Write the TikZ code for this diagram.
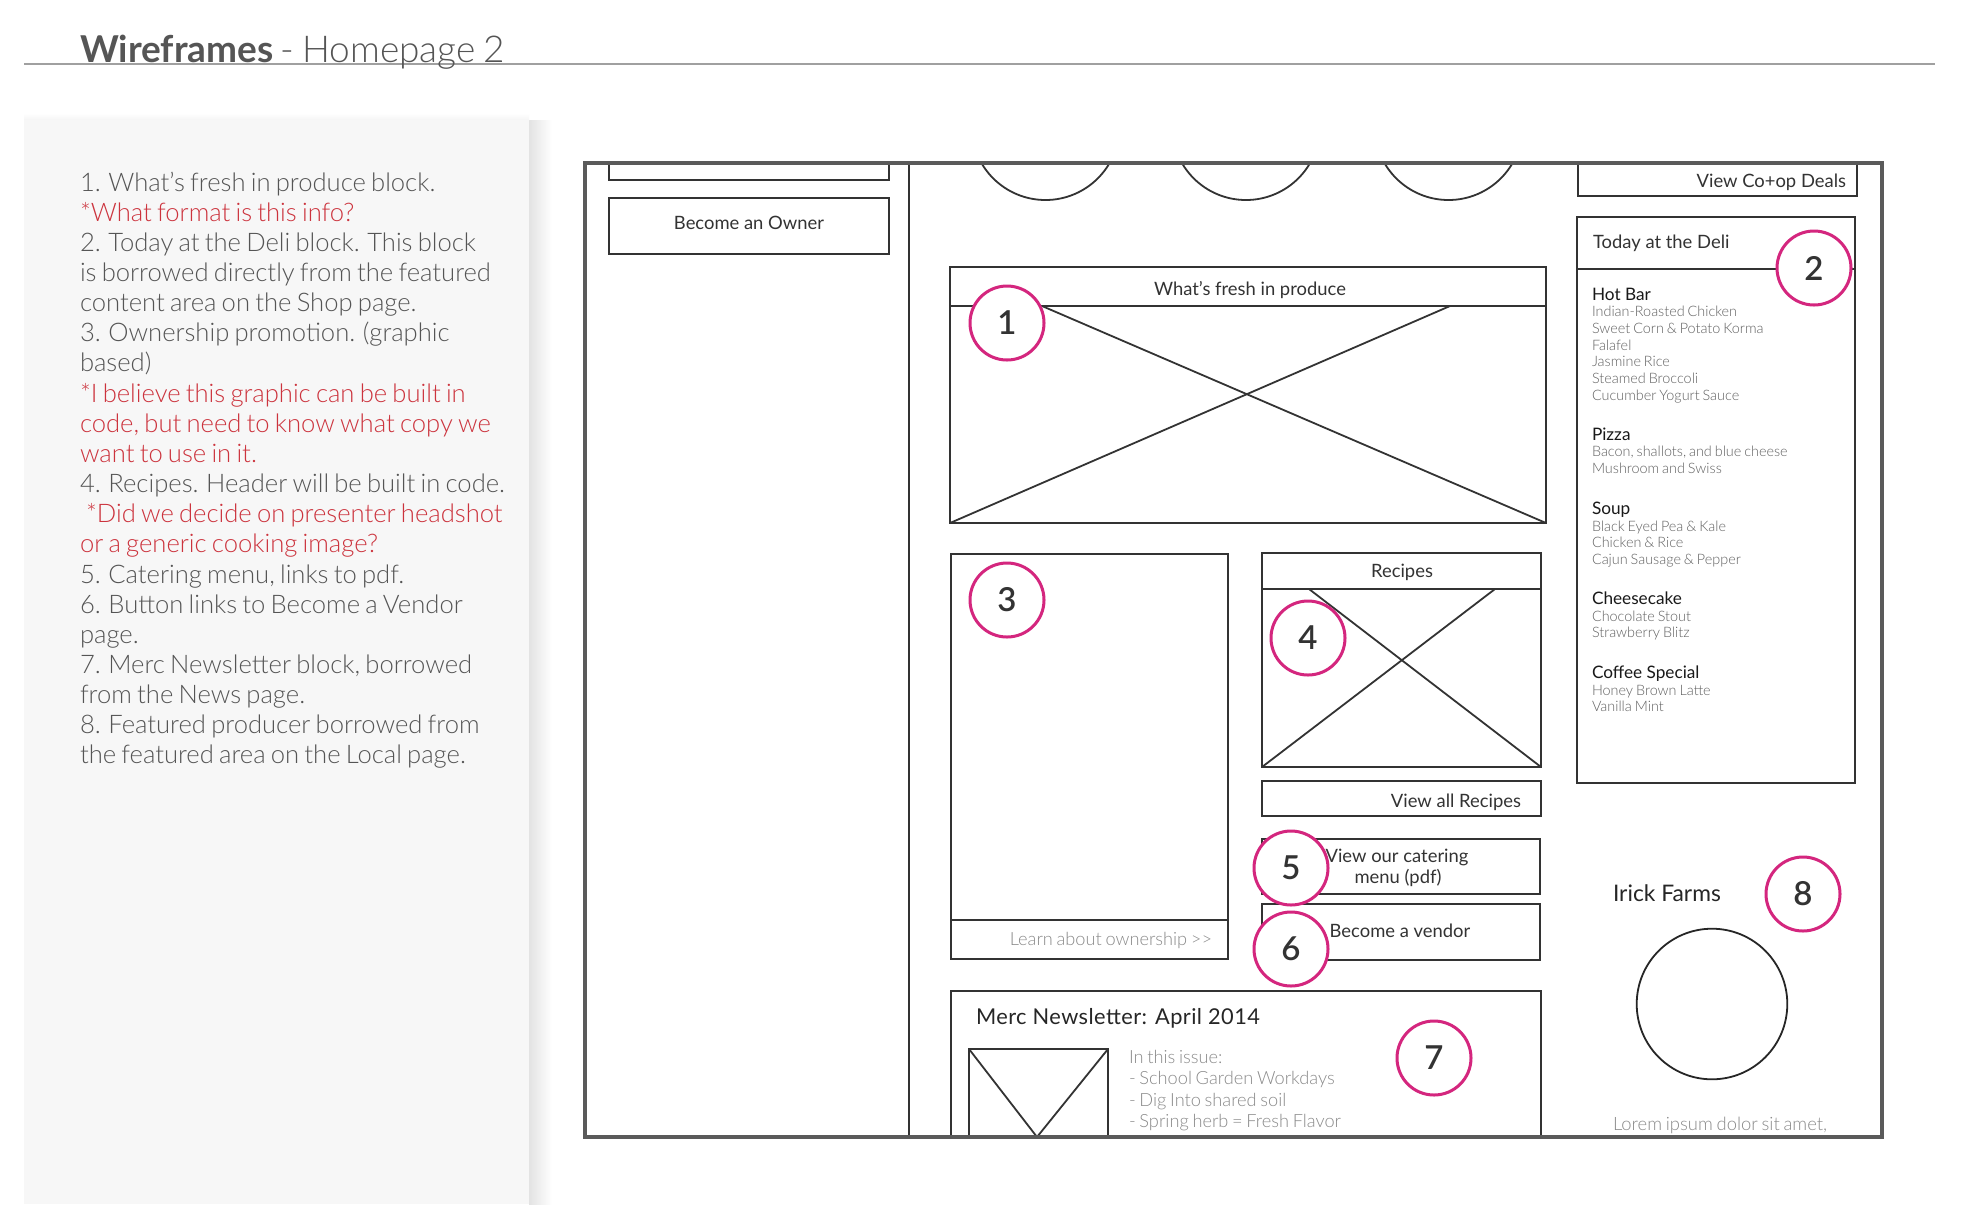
\documentclass[tikz,border=0pt]{standalone}
\usepackage{fontspec}
\setmainfont{Lato}
\newfontfamily\lightfont{Lato Light}
\newfontfamily\notefont{Lato Light}[WordSpace=0.75]
\newfontfamily\semifont{Lato Semibold}
\definecolor{framegray}{HTML}{5A5A5A}
\definecolor{linedark}{HTML}{333333}
\definecolor{magentaring}{HTML}{D4267E}
\definecolor{notegray}{HTML}{555555}
\definecolor{notered}{HTML}{CC333D}
\definecolor{itemgray}{HTML}{606060}
\definecolor{softgray}{HTML}{8A8A8A}
\definecolor{panelfill}{HTML}{F7F7F7}
\definecolor{rulegray}{HTML}{A0A0A0}
\begin{document}
\begin{tikzpicture}[x=0.5pt,y=-0.5pt,
  txt/.style={inner sep=0pt, outer sep=0pt},
  note/.style={txt, anchor=base west, font=\notefont\fontsize{12.8}{15}\selectfont, text=notegray},
  notered/.style={note, text=notered},
  wf/.style={txt, font=\fontsize{9.2}{11}\selectfont, text=linedark},
  head/.style={txt, anchor=base west, font=\fontsize{8.6}{10}\selectfont, text=black!90},
  item/.style={txt, anchor=base west, font=\lightfont\fontsize{7.2}{8}\selectfont, text=itemgray},
  soft/.style={txt, font=\lightfont\fontsize{9.1}{11}\selectfont, text=softgray},
  newsitem/.style={soft, anchor=base west, font=\lightfont\fontsize{9.1}{11}\selectfont},
  wline/.style={draw=linedark, line width=0.9pt},
  numring/.style={circle, draw=magentaring, line width=1.5pt, fill=white, minimum size=37pt, inner sep=0pt, font=\semifont\fontsize{16.5}{18}\selectfont, text=linedark}
]
\useasboundingbox (0,0) rectangle (1964,1228);
\fill[white] (0,0) rectangle (1964,1228);

% ---------- title ----------
\draw[rulegray, line width=0.9pt] (24,64) -- (1935,64);
\node[txt, anchor=base west, text=notegray] (title) at (80,62)
  {\fontsize{18.5}{22}\selectfont\bfseries Wireframes\mdseries\lightfont\ - Homepage 2};

% ---------- notes panel ----------
\shade[left color=black!11, right color=white] (529,120) rectangle (552,1204);
\shade[top color=white, bottom color=black!4] (24,113) rectangle (529,120);
\fill[panelfill] (24,120) rectangle (529,1204);

\node[note] (n1) at (80,191.0) {1. What’s fresh in produce block.};
\node[notered] (n2) at (80,221.2) {*What format is this info?};
\node[note] (n3) at (80,251.3) {2. Today at the Deli block. This block};
\node[note] (n4) at (80,281.5) {is borrowed directly from the featured};
\node[note] (n5) at (80,311.6) {content area on the Shop page.};
\node[note] (n6) at (80,341.8) {3. Ownership promotion. (graphic};
\node[note] (n7) at (80,371.9) {based)};
\node[notered] (n8) at (80,402.1) {*I believe this graphic can be built in};
\node[notered] (n9) at (80,432.2) {code, but need to know what copy we};
\node[notered] (n10) at (80,462.4) {want to use in it.};
\node[note] (n11) at (80,492.5) {4. Recipes. Header will be built in code.};
\node[notered] (n12) at (86,522.7) {*Did we decide on presenter headshot};
\node[notered] (n13) at (80,552.8) {or a generic cooking image?};
\node[note] (n14) at (80,583.0) {5. Catering menu, links to pdf.};
\node[note] (n15) at (80,613.1) {6. Button links to Become a Vendor};
\node[note] (n16) at (80,643.3) {page.};
\node[note] (n17) at (80,673.4) {7. Merc Newsletter block, borrowed};
\node[note] (n18) at (80,703.6) {from the News page.};
\node[note] (n19) at (80,733.7) {8. Featured producer borrowed from};
\node[note] (n20) at (80,763.9) {the featured area on the Local page.};

% ---------- wireframe ----------
% scallops
\begin{scope}
  \clip (909,163) rectangle (1560,300);
  \draw[wline] (1045.5,126) circle[radius=37pt];
  \draw[wline] (1246,126) circle[radius=37pt];
  \draw[wline] (1448.5,126) circle[radius=37pt];
\end{scope}

% left column
\draw[wline] (609,163) -- (609,180) -- (889,180) -- (889,163);
\draw[wline] (609,198) rectangle (889,254);
\node[wf, anchor=base] (owner) at (749,229) {Become an Owner};
\draw[wline] (909,163) -- (909,1137);

% produce
\draw[wline] (950,267) rectangle (1546,523);
\draw[wline] (950,306) -- (1546,306);
\draw[wline] (950,523) -- (1450,306);
\draw[wline] (1042,306) -- (1546,523);
\node[wf, anchor=base] (produce) at (1250,295) {What’s fresh in produce};

% ownership block
\draw[wline] (951,554) rectangle (1228,959);
\draw[wline] (951,920) -- (1228,920);
\node[soft, anchor=base east] (learn) at (1212,945) {Learn about ownership >>};

% recipes
\draw[wline] (1262,553) rectangle (1541,767);
\draw[wline] (1262,589) -- (1541,589);
\draw[wline] (1309,589) -- (1541,767);
\draw[wline] (1495,589) -- (1262,767);
\node[wf, anchor=base] (recipes) at (1402,577) {Recipes};
\draw[wline] (1262,781) rectangle (1541,816);
\node[wf, anchor=base east] (allrec) at (1521,807) {View all Recipes};
\draw[wline] (1262,839) rectangle (1540,894);
\node[wf, anchor=base] (cater1) at (1397,862) {View our catering};
\node[wf, anchor=base] (cater2) at (1398,883) {menu (pdf)};
\draw[wline] (1262,904) rectangle (1540,960);
\node[wf, anchor=base] (vendor) at (1400,937) {Become a vendor};

% newsletter
\draw[wline] (951,1137) -- (951,991) -- (1541,991) -- (1541,1137);
\node[txt, anchor=base west, font=\addfontfeature{LetterSpace=2}\fontsize{10.9}{12}\selectfont, text=black!85] (news) at (976,1024) {Merc Newsletter: April 2014};
\draw[wline] (969,1137) -- (969,1049) -- (1108,1049) -- (1108,1137);
\draw[wline] (969,1049) -- (1037,1137) -- (1108,1049);
\node[newsitem] (ni1) at (1129,1063) {In this issue:};
\node[newsitem] (ni2) at (1129,1084) {- School Garden Workdays};
\node[newsitem] (ni3) at (1129,1106) {- Dig Into shared soil};
\node[newsitem] (ni4) at (1129,1127) {- Spring herb = Fresh Flavor};

% right column
\draw[wline] (1578,163) -- (1578,196) -- (1857,196) -- (1857,163);
\node[wf, anchor=base east] (coop) at (1846,187) {View Co+op Deals};
\draw[wline] (1577,217) rectangle (1855,783);
\draw[wline] (1577,269) -- (1855,269);
\node[wf, anchor=base west] (deli) at (1593,248) {Today at the Deli};

\node[head] (h1) at (1592,300) {Hot Bar};
\node[item] (i11) at (1592,316.7) {Indian-Roasted Chicken};
\node[item] (i12) at (1592,333.3) {Sweet Corn \& Potato Korma};
\node[item] (i13) at (1592,350) {Falafel};
\node[item] (i14) at (1592,366.7) {Jasmine Rice};
\node[item] (i15) at (1592,383.3) {Steamed Broccoli};
\node[item] (i16) at (1592,400) {Cucumber Yogurt Sauce};
\node[head] (h2) at (1592,440) {Pizza};
\node[item] (i21) at (1592,456.7) {Bacon, shallots, and blue cheese};
\node[item] (i22) at (1592,473.3) {Mushroom and Swiss};
\node[head] (h3) at (1592,514) {Soup};
\node[item] (i31) at (1592,531) {Black Eyed Pea \& Kale};
\node[item] (i32) at (1592,547.7) {Chicken \& Rice};
\node[item] (i33) at (1592,564.3) {Cajun Sausage \& Pepper};
\node[head] (h4) at (1592,604.3) {Cheesecake};
\node[item] (i41) at (1592,621) {Chocolate Stout};
\node[item] (i42) at (1592,637.7) {Strawberry Blitz};
\node[head] (h5) at (1592,678.3) {Coffee Special};
\node[item] (i51) at (1592,695) {Honey Brown Latte};
\node[item] (i52) at (1592,711) {Vanilla Mint};

\node[txt, anchor=base west, font=\fontsize{11.4}{13}\selectfont, text=black!85] (irick) at (1613,901) {Irick Farms};
\node[circle, draw=black!85, line width=0.9pt, minimum size=75.3pt, inner sep=0pt] (farmpic) at (1712,1004) {};
\node[soft, anchor=base west, font=\lightfont\fontsize{9.2}{11}\selectfont] (lorem) at (1613,1130) {Lorem ipsum dolor sit amet,};

% outer frame
\draw[framegray, line width=1.8pt] (585,163) rectangle (1882,1137);

% numbered rings
\node[numring] (c1) at (1007,323) {1};
\node[numring] (c2) at (1814,268) {2};
\node[numring] (c3) at (1007,600) {3};
\node[numring] (c4) at (1308,638) {4};
\node[numring] (c5) at (1291,868) {5};
\node[numring] (c6) at (1291,949) {6};
\node[numring] (c7) at (1434,1058) {7};
\node[numring] (c8) at (1803,894) {8};
\end{tikzpicture}
\end{document}
